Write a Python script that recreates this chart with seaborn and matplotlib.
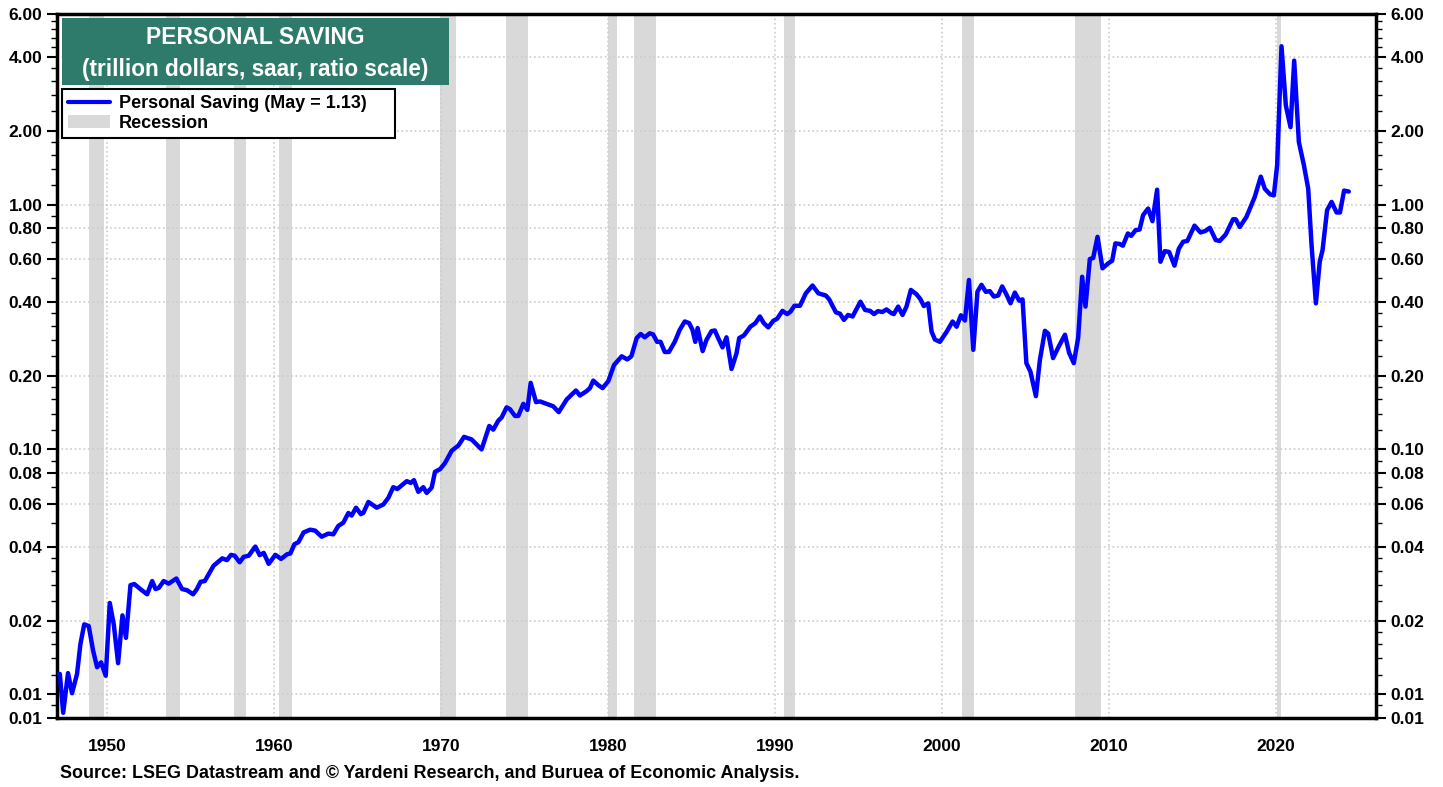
import seaborn as sns
import matplotlib.pyplot as plt
from matplotlib.lines import Line2D
from matplotlib.patches import Patch, Rectangle
from matplotlib.ticker import FixedLocator, FixedFormatter, MultipleLocator, NullFormatter

# Personal saving, trillion dollars
years = [
    1947.0, 1947.17, 1947.37, 1947.66, 1947.9, 1948.2, 1948.4, 1948.63, 1948.9, 1949.16, 1949.4, 1949.64, 1949.92,
    1950.16, 1950.4, 1950.66, 1950.92, 1951.13, 1951.4, 1951.63, 1951.99, 1952.4, 1952.7, 1952.9, 1953.1, 1953.39,
    1953.69, 1954.15, 1954.49, 1954.79, 1955.15, 1955.38, 1955.6, 1955.85, 1956.38, 1956.9, 1957.18, 1957.42,
    1957.64, 1957.94, 1958.18, 1958.48, 1958.88, 1959.14, 1959.38, 1959.68, 1960.08, 1960.42, 1960.78, 1960.98,
    1961.22, 1961.46, 1961.77, 1962.16, 1962.46, 1962.85, 1963.25, 1963.55, 1963.85, 1964.15, 1964.45, 1964.65,
    1964.91, 1965.2, 1965.35, 1965.65, 1966.15, 1966.55, 1966.85, 1967.14, 1967.38, 1967.95, 1968.19, 1968.38,
    1968.64, 1968.94, 1969.14, 1969.44, 1969.64, 1969.94, 1970.24, 1970.64, 1971.04, 1971.38, 1971.83, 1972.13,
    1972.43, 1972.89, 1973.13, 1973.43, 1973.63, 1973.93, 1974.13, 1974.43, 1974.63, 1974.93, 1975.17, 1975.37,
    1975.69, 1975.93, 1976.33, 1976.72, 1977.05, 1977.53, 1978.08, 1978.32, 1978.72, 1978.92, 1979.12, 1979.42,
    1979.68, 1980.02, 1980.36, 1980.82, 1981.16, 1981.4, 1981.72, 1981.96, 1982.2, 1982.5, 1982.7, 1982.94,
    1983.15, 1983.4, 1983.65, 1984.0, 1984.3, 1984.6, 1984.86, 1985.06, 1985.23, 1985.37, 1985.67, 1985.9,
    1986.2, 1986.4, 1986.6, 1986.86, 1987.1, 1987.4, 1987.7, 1987.86, 1988.14, 1988.53, 1988.83, 1989.1,
    1989.33, 1989.6, 1989.9, 1990.14, 1990.45, 1990.73, 1990.93, 1991.17, 1991.5, 1991.85, 1992.25, 1992.6,
    1993.05, 1993.25, 1993.65, 1993.9, 1994.13, 1994.38, 1994.65, 1995.12, 1995.4, 1995.7, 1995.93, 1996.17,
    1996.43, 1996.68, 1996.98, 1997.12, 1997.38, 1997.64, 1997.88, 1998.14, 1998.48, 1998.72, 1998.92, 1999.18,
    1999.38, 1999.58, 1999.88, 2000.28, 2000.64, 2000.88, 2001.14, 2001.38, 2001.62, 2001.88, 2002.13, 2002.37,
    2002.63, 2002.87, 2003.11, 2003.37, 2003.61, 2003.86, 2004.11, 2004.37, 2004.63, 2004.83, 2005.06, 2005.3,
    2005.63, 2005.87, 2006.17, 2006.37, 2006.66, 2006.96, 2007.37, 2007.62, 2007.9, 2008.16, 2008.4, 2008.6,
    2008.86, 2009.06, 2009.32, 2009.62, 2009.96, 2010.2, 2010.39, 2010.65, 2010.84, 2011.14, 2011.34, 2011.6,
    2011.84, 2012.05, 2012.35, 2012.61, 2012.89, 2013.09, 2013.35, 2013.61, 2013.93, 2014.19, 2014.45, 2014.7,
    2015.13, 2015.49, 2015.78, 2016.05, 2016.4, 2016.64, 2017.0, 2017.44, 2017.6, 2017.84, 2018.24, 2018.74,
    2019.1, 2019.34, 2019.66, 2019.88, 2020.08, 2020.34, 2020.6, 2020.88, 2021.1, 2021.38, 2021.68, 2021.94,
    2022.14, 2022.4, 2022.63, 2022.8, 2023.07, 2023.34, 2023.64, 2023.84, 2024.09, 2024.37,
]
saving = [
    0.0121, 0.0121, 0.0084, 0.0122, 0.0101, 0.0121, 0.0160, 0.0193, 0.0190, 0.0151, 0.0129, 0.0135, 0.0119,
    0.0236, 0.0193, 0.0134, 0.0210, 0.0170, 0.0279, 0.0282, 0.0269, 0.0256, 0.0290, 0.0269, 0.0272, 0.0290,
    0.0283, 0.0297, 0.0269, 0.0266, 0.0256, 0.0269, 0.0288, 0.0290, 0.0335, 0.0359, 0.0353, 0.0371,
    0.0368, 0.0346, 0.0364, 0.0368, 0.0401, 0.0370, 0.0378, 0.0341, 0.0371, 0.0357, 0.0373, 0.0376,
    0.0410, 0.0418, 0.0458, 0.0470, 0.0466, 0.0440, 0.0453, 0.0450, 0.0487, 0.0502, 0.0550, 0.0537,
    0.0578, 0.0544, 0.0551, 0.0610, 0.0578, 0.0596, 0.0635, 0.0701, 0.0689, 0.0742, 0.0730, 0.0749,
    0.0671, 0.0701, 0.0664, 0.0698, 0.0810, 0.0830, 0.0880, 0.0987, 0.1037, 0.1125, 0.1098, 0.1048,
    0.1000, 0.1246, 0.1204, 0.131, 0.135, 0.1485, 0.146, 0.137, 0.137, 0.1535, 0.145, 0.187,
    0.156, 0.157, 0.1535, 0.150, 0.142, 0.160, 0.174, 0.166, 0.173, 0.178, 0.191, 0.183,
    0.178, 0.190, 0.221, 0.240, 0.233, 0.240, 0.285, 0.296, 0.287, 0.298, 0.295, 0.275,
    0.275, 0.250, 0.250, 0.275, 0.308, 0.333, 0.328, 0.308, 0.275, 0.313, 0.252, 0.280,
    0.304, 0.306, 0.285, 0.261, 0.287, 0.213, 0.247, 0.285, 0.292, 0.317, 0.328, 0.349,
    0.328, 0.315, 0.335, 0.342, 0.368, 0.357, 0.365, 0.386, 0.386, 0.434, 0.467, 0.434,
    0.425, 0.41, 0.363, 0.358, 0.338, 0.354, 0.349, 0.401, 0.371, 0.368, 0.357, 0.367,
    0.364, 0.373, 0.360, 0.357, 0.383, 0.354, 0.383, 0.448, 0.430, 0.41, 0.385, 0.395,
    0.303, 0.281, 0.275, 0.302, 0.333, 0.317, 0.353, 0.336, 0.492, 0.255, 0.441, 0.470,
    0.44, 0.443, 0.421, 0.425, 0.463, 0.43, 0.395, 0.437, 0.405, 0.41, 0.225, 0.208,
    0.165, 0.232, 0.305, 0.297, 0.236, 0.26, 0.294, 0.248, 0.225, 0.285, 0.507, 0.383,
    0.599, 0.605, 0.738, 0.549, 0.575, 0.59, 0.694, 0.69, 0.679, 0.762, 0.745, 0.786,
    0.79, 0.905, 0.963, 0.855, 1.15, 0.584, 0.645, 0.64, 0.563, 0.66, 0.705, 0.71,
    0.82, 0.769, 0.78, 0.804, 0.716, 0.71, 0.755, 0.871, 0.87, 0.81, 0.89, 1.075,
    1.30, 1.16, 1.10, 1.09, 1.45, 4.43, 2.54, 2.07, 3.87, 1.80, 1.45, 1.16,
    0.683, 0.395, 0.584, 0.652, 0.948, 1.025, 0.928, 0.928, 1.14, 1.13,
]

# NBER recessions
rec_start = [1948.9, 1953.55, 1957.6, 1960.3, 1969.95, 1973.9, 1980.0, 1981.55, 1990.55, 2001.2, 2007.95, 2020.1]
rec_end = [1949.8, 1954.35, 1958.3, 1961.1, 1970.9, 1975.2, 1980.55, 1982.9, 1991.2, 2001.9, 2009.5, 2020.33]

ytick_vals = [0.008, 0.01, 0.02, 0.04, 0.06, 0.08, 0.10, 0.20, 0.40, 0.60, 0.80, 1.00, 2.00, 4.00, 6.00]
ytick_labels = ["%.2f" % v for v in ytick_vals]
xtick_vals = [1950, 1960, 1970, 1980, 1990, 2000, 2010, 2020]

# minor y ticks: (from, to, step)
minor_steps = [(0.008, 0.01, 0.001), (0.01, 0.02, 0.002), (0.02, 0.04, 0.004), (0.04, 0.10, 0.01),
               (0.10, 0.20, 0.02), (0.20, 0.40, 0.04), (0.40, 1.00, 0.10), (1.00, 2.00, 0.2),
               (2.00, 4.00, 0.4), (4.00, 6.00, 0.4)]
yminor = []
for lo, hi, st in minor_steps:
    n = int(round((hi - lo) / st))
    yminor += [lo + st * i for i in range(1, n)]

sns.set_style("white")
plt.rcParams['font.family'] = ['Liberation Sans', 'DejaVu Sans']
plt.rcParams['font.weight'] = 'bold'
plt.rcParams['text.color'] = 'black'
plt.rcParams['xtick.color'] = 'black'
plt.rcParams['ytick.color'] = 'black'

fig = plt.figure(figsize=(14.43, 7.87), dpi=100)
ax = fig.add_axes([57 / 1443, 69 / 787, 1319 / 1443, 704 / 787])

for s, e in zip(rec_start, rec_end):
    ax.axvspan(s, e, color='#d9d9d9', lw=0, zorder=0)

sns.lineplot(x=years, y=saving, ax=ax, color='#0000ff', linewidth=3.2, zorder=3)

ax.set_yscale('log')
ax.set_ylim(0.008, 6.0)
ax.set_xlim(1947, 2026)

ax.yaxis.set_major_locator(FixedLocator(ytick_vals))
ax.yaxis.set_major_formatter(FixedFormatter(ytick_labels))
ax.yaxis.set_minor_locator(FixedLocator(yminor))
ax.yaxis.set_minor_formatter(NullFormatter())
ax.xaxis.set_major_locator(FixedLocator(xtick_vals))
ax.xaxis.set_minor_locator(MultipleLocator(1))

ax.tick_params(axis='both', which='major', direction='out', length=7, width=1.5,
               labelsize=12.5, colors='black')
ax.tick_params(axis='both', which='minor', direction='out', length=4, width=1, colors='black')
ax.tick_params(axis='y', which='both', left=True, right=True, labelleft=True, labelright=True)
ax.tick_params(axis='x', which='major', pad=8)
for lab in ax.get_xticklabels() + ax.get_yticklabels():
    lab.set_fontweight('bold')

ax.grid(True, which='major', axis='both', color='#cccccc', linestyle=':', linewidth=1.2)
for sp in ax.spines.values():
    sp.set_linewidth(2.5)
    sp.set_color('black')

# title box
ax.add_patch(Rectangle((0.0038, 0.899), 0.2934, 0.095, transform=ax.transAxes,
                       facecolor='#2e7b6c', edgecolor='none', zorder=5))
ax.text(0.1505, 0.967, "PERSONAL SAVING", transform=ax.transAxes, ha='center', va='center',
        color='white', fontsize=16.5, fontweight='bold', zorder=6)
ax.text(0.1505, 0.921, "(trillion dollars, saar, ratio scale)", transform=ax.transAxes,
        ha='center', va='center', color='white', fontsize=16.3, fontweight='bold', zorder=6)

handles = [Line2D([0], [0], color='#0000ff', lw=3),
           Patch(facecolor='#d9d9d9', edgecolor='none')]
leg = ax.legend(handles, ["Personal Saving (May = 1.13)", "Recession"], loc='upper left',
                bbox_to_anchor=(0.0038, 0.825, 0.2525, 0.069), mode='expand', borderaxespad=0,
                fancybox=False, framealpha=1, edgecolor='black',
                prop={'weight': 'bold', 'size': 13}, handlelength=2.3,
                borderpad=0.35, labelspacing=0.15, handletextpad=0.5)
leg.get_frame().set_linewidth(1.5)
leg.set_zorder(6)
for t in leg.get_texts():
    t.set_color('black')

fig.text(60 / 1443, 1 - 773 / 787, "Source: LSEG Datastream and \u00a9 Yardeni Research, and Buruea of Economic Analysis.",
         ha='left', va='center', fontsize=12.9, fontweight='bold', color='black')

fig.savefig('out.png', dpi=100)
